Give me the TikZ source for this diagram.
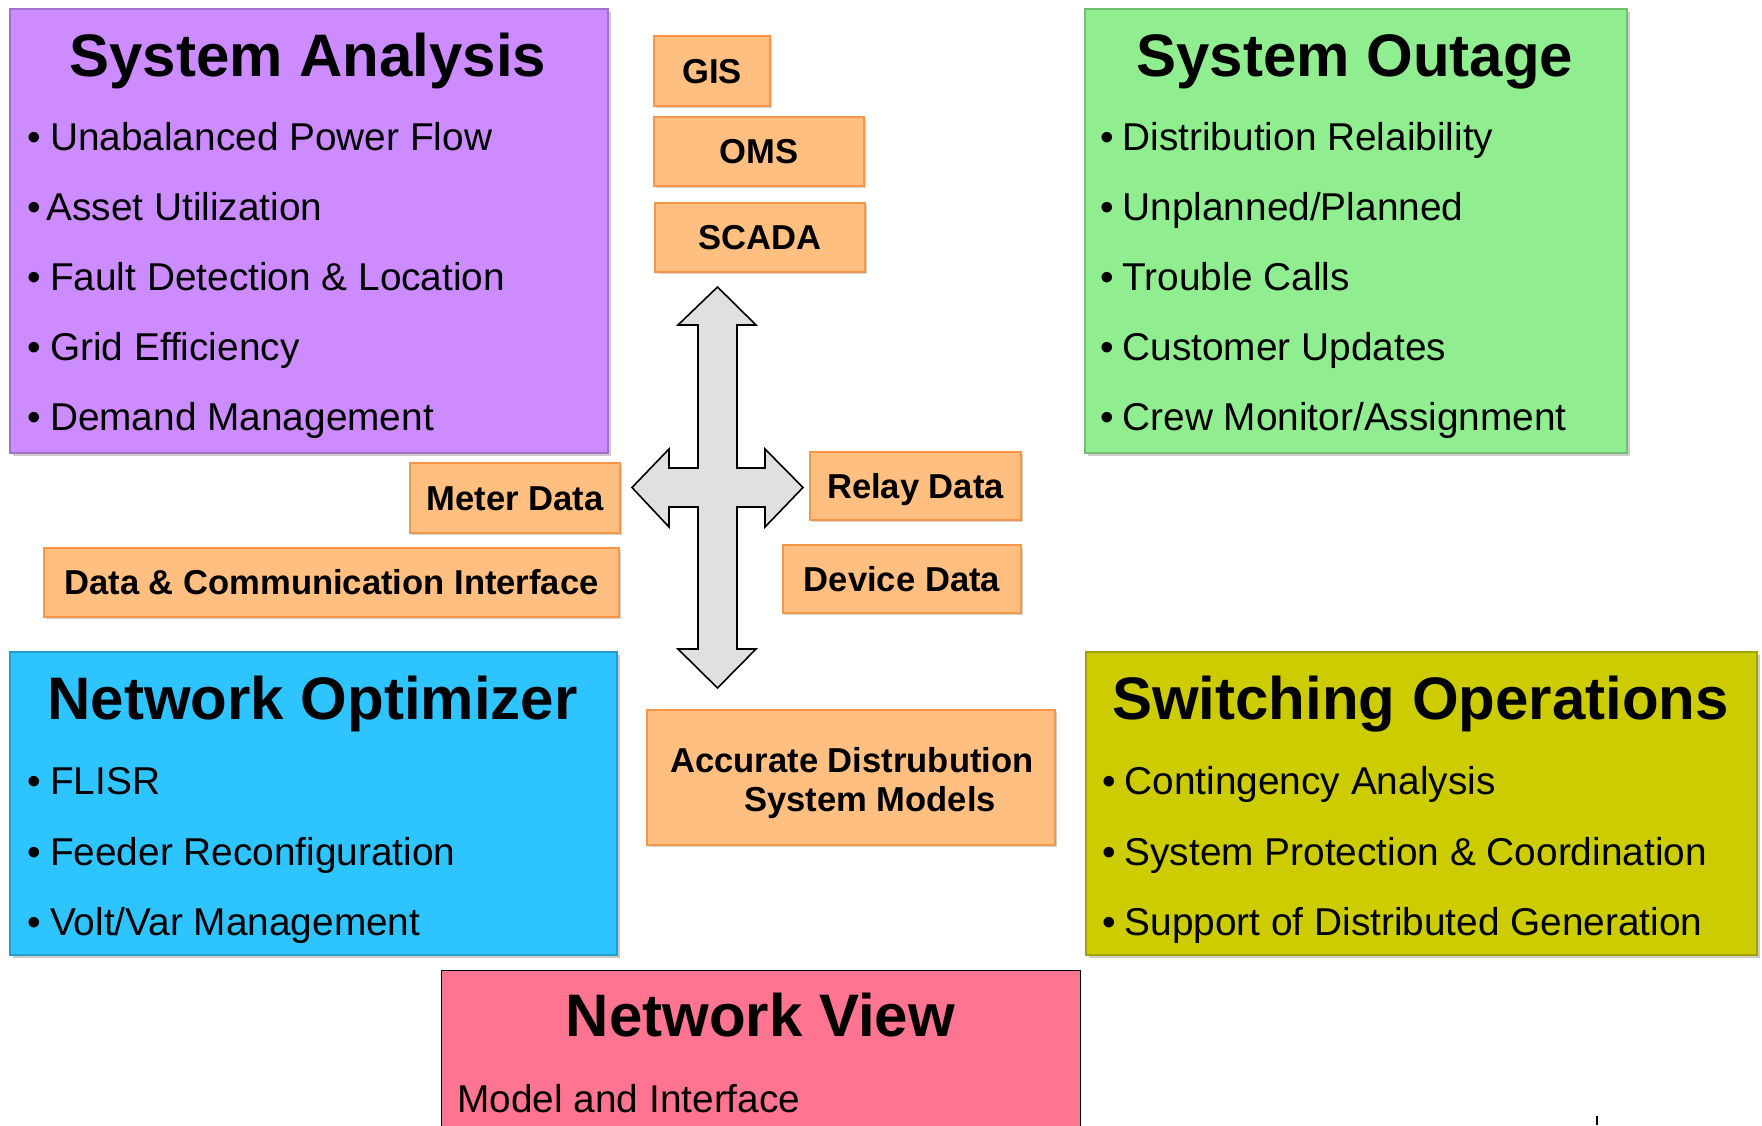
\documentclass[tikz,border=0pt]{standalone}
\usepackage{fontspec}
\setmainfont{Liberation Sans}
\usetikzlibrary{shadows}
\definecolor{analysispurple}{HTML}{CC8CFF}
\definecolor{outagegreen}{HTML}{90EE90}
\definecolor{optimizercyan}{HTML}{2EC4FF}
\definecolor{switchingolive}{HTML}{CCCC00}
\definecolor{viewpink}{HTML}{FF7490}
\definecolor{dataorange}{HTML}{FFBF80}
\definecolor{databorder}{HTML}{F79646}
\definecolor{arrowgray}{HTML}{E0E0E0}
\newcommand{\dotitem}{•\hspace{4.3pt}}
\tikzstyle{panel}=[rectangle, anchor=north west, inner sep=0pt, line width=0.8pt,
  drop shadow={shadow xshift=1.5pt, shadow yshift=-1.5pt, opacity=0.4}]
\tikzstyle{databox}=[rectangle, anchor=north west, inner sep=0pt, fill=dataorange,
  draw=databorder, line width=1pt, font=\bfseries\fontsize{17.3pt}{19.5pt}\selectfont,
  text height=12.4pt, text depth=0pt,
  drop shadow={shadow xshift=1.2pt, shadow yshift=-1.2pt, opacity=0.35}]
\tikzstyle{datatext}=[anchor=base, inner sep=0pt, font=\bfseries\fontsize{17.3pt}{19.5pt}\selectfont]
\tikzstyle{paneltitle}=[anchor=base, inner sep=0pt, font=\bfseries\fontsize{30pt}{36pt}\selectfont]
\tikzstyle{item}=[anchor=base west, inner sep=0pt, font=\fontsize{19.4pt}{23pt}\selectfont]
\tikzstyle{crossarrow}=[fill=arrowgray, draw=black, line width=0.8pt, line join=miter]
\begin{document}
\begin{tikzpicture}[x=0.5pt, y=-0.5pt]
  \fill[white] (0,0) rectangle (1762,1125);
  \useasboundingbox (0,0) rectangle (1762,1125);

  \node[panel, fill=analysispurple, draw=analysispurple!80!black, minimum width=299pt, minimum height=222pt] (analysis) at (9,8) {};
  \node[paneltitle] (analysistitle) at (308,76) {System Analysis};
  \node[item] (analysis1) at (27.5,150) {\dotitem Unabalanced Power Flow};
  \node[item] (analysis2) at (27.5,220) {•\hspace{2.5pt}Asset Utilization};
  \node[item] (analysis3) at (27.5,290) {\dotitem Fault Detection \& Location};
  \node[item] (analysis4) at (27.5,360) {\dotitem Grid Efficiency};
  \node[item] (analysis5) at (27.5,430) {\dotitem Demand Management};

  \node[panel, fill=outagegreen, draw=outagegreen!80!black, minimum width=271pt, minimum height=222pt] (outage) at (1084,8) {};
  \node[paneltitle] (outagetitle) at (1355,76) {System Outage};
  \node[item] (outage1) at (1100,150) {\dotitem Distribution Relaibility};
  \node[item] (outage2) at (1100,220) {\dotitem Unplanned/Planned};
  \node[item] (outage3) at (1100,290) {\dotitem Trouble Calls};
  \node[item] (outage4) at (1100,360) {\dotitem Customer Updates};
  \node[item] (outage5) at (1100,430) {\dotitem Crew Monitor/Assignment};

  \node[panel, fill=optimizercyan, draw=optimizercyan!80!black, minimum width=303.5pt, minimum height=151.5pt] (optimizer) at (9,651) {};
  \node[paneltitle] (optimizertitle) at (312.5,719) {Network Optimizer};
  \node[item] (optimizer1) at (27.5,794) {\dotitem FLISR};
  \node[item] (optimizer2) at (27.5,865) {\dotitem Feeder Reconfiguration};
  \node[item] (optimizer3) at (27.5,935) {\dotitem Volt/Var Management};

  \node[panel, fill=switchingolive, draw=switchingolive!80!black, minimum width=335.5pt, minimum height=151.5pt] (switching) at (1085,651) {};
  \node[paneltitle] (switchingtitle) at (1420.5,719) {Switching Operations};
  \node[item] (switching1) at (1102,794) {\dotitem Contingency Analysis};
  \node[item] (switching2) at (1102,865) {\dotitem System Protection \& Coordination};
  \node[item] (switching3) at (1102,935) {\dotitem Support of Distributed Generation};

  \node[rectangle, anchor=north west, inner sep=0pt, fill=viewpink, draw=black, line width=0.6pt, minimum width=319.5pt, minimum height=82pt] (view) at (441,970) {};
  \node[paneltitle] (viewtitle) at (760.5,1036) {Network View};
  \node[item] (view1) at (457,1112) {Model and Interface};

  \node[databox, minimum width=58pt, minimum height=35pt] (gis) at (653,35) {GIS};
  \node[databox, minimum width=105pt, minimum height=34.5pt] (oms) at (653,116) {OMS};
  \node[databox, minimum width=105pt, minimum height=34.5pt] (scada) at (654,202) {SCADA};
  \node[databox, minimum width=105pt, minimum height=35pt] (meter) at (409,462) {Meter Data};
  \node[databox, minimum width=287.5pt, minimum height=34.5pt] (interface) at (43,547) {Data \& Communication Interface};
  \node[databox, minimum width=105.5pt, minimum height=34pt] (relay) at (809,451) {Relay Data};
  \node[databox, minimum width=119pt, minimum height=34pt] (device) at (782,544) {Device Data};
  \node[databox, minimum width=204pt, minimum height=67.5pt] (models) at (646,709) {};
  \node[datatext] (models1) at (852,772) {Accurate Distrubution};
  \node[datatext] (models2) at (870,811) {System Models};

  \draw[crossarrow] (717.5,287) -- (756,325) -- (737,325) -- (737,468) -- (765,468) -- (765,449)
    -- (803,487.5) -- (765,527) -- (765,507) -- (737,507) -- (737,649) -- (756,649)
    -- (717.5,688) -- (678,649) -- (698,649) -- (698,507) -- (669,507) -- (669,527)
    -- (632,487.5) -- (669,449) -- (669,468) -- (698,468) -- (698,325) -- (678,325) -- cycle;

  \draw[line width=1pt] (1597,1116) -- (1597,1125);
\end{tikzpicture}
\end{document}
